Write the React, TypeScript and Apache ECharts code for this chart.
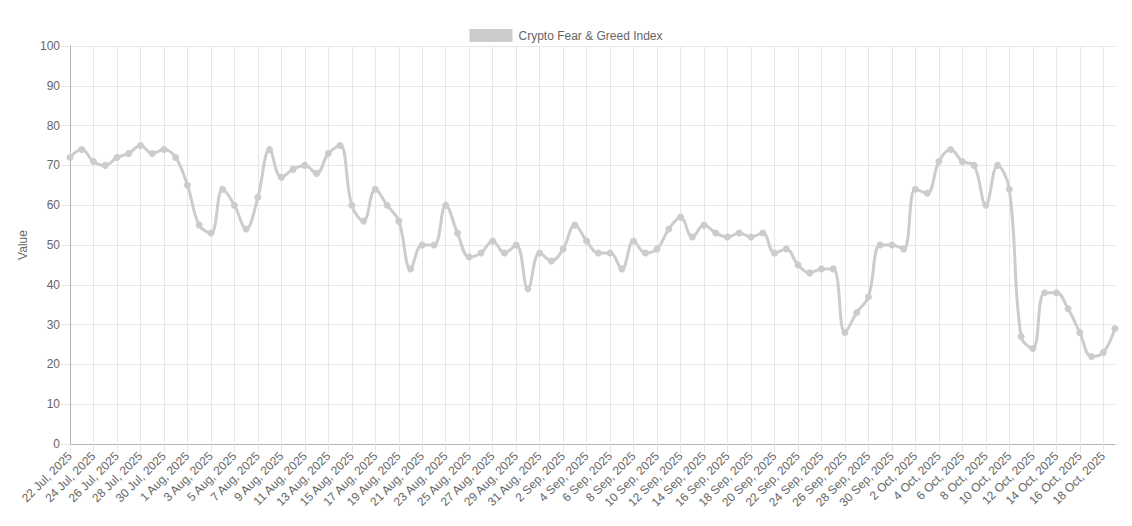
import React, { useEffect, useRef } from "react";
import * as echarts from "echarts";

const categories: string[] = [
  "22 Jul, 2025", "23 Jul, 2025", "24 Jul, 2025", "25 Jul, 2025", "26 Jul, 2025", "27 Jul, 2025",
  "28 Jul, 2025", "29 Jul, 2025", "30 Jul, 2025", "31 Jul, 2025",
  "1 Aug, 2025", "2 Aug, 2025", "3 Aug, 2025", "4 Aug, 2025", "5 Aug, 2025", "6 Aug, 2025",
  "7 Aug, 2025", "8 Aug, 2025", "9 Aug, 2025", "10 Aug, 2025", "11 Aug, 2025", "12 Aug, 2025",
  "13 Aug, 2025", "14 Aug, 2025", "15 Aug, 2025", "16 Aug, 2025", "17 Aug, 2025", "18 Aug, 2025",
  "19 Aug, 2025", "20 Aug, 2025", "21 Aug, 2025", "22 Aug, 2025", "23 Aug, 2025", "24 Aug, 2025",
  "25 Aug, 2025", "26 Aug, 2025", "27 Aug, 2025", "28 Aug, 2025", "29 Aug, 2025", "30 Aug, 2025",
  "31 Aug, 2025",
  "1 Sep, 2025", "2 Sep, 2025", "3 Sep, 2025", "4 Sep, 2025", "5 Sep, 2025", "6 Sep, 2025",
  "7 Sep, 2025", "8 Sep, 2025", "9 Sep, 2025", "10 Sep, 2025", "11 Sep, 2025", "12 Sep, 2025",
  "13 Sep, 2025", "14 Sep, 2025", "15 Sep, 2025", "16 Sep, 2025", "17 Sep, 2025", "18 Sep, 2025",
  "19 Sep, 2025", "20 Sep, 2025", "21 Sep, 2025", "22 Sep, 2025", "23 Sep, 2025", "24 Sep, 2025",
  "25 Sep, 2025", "26 Sep, 2025", "27 Sep, 2025", "28 Sep, 2025", "29 Sep, 2025", "30 Sep, 2025",
  "1 Oct, 2025", "2 Oct, 2025", "3 Oct, 2025", "4 Oct, 2025", "5 Oct, 2025", "6 Oct, 2025",
  "7 Oct, 2025", "8 Oct, 2025", "9 Oct, 2025", "10 Oct, 2025", "11 Oct, 2025", "12 Oct, 2025",
  "13 Oct, 2025", "14 Oct, 2025", "15 Oct, 2025", "16 Oct, 2025", "17 Oct, 2025", "18 Oct, 2025",
  "19 Oct, 2025",
];

const fearGreedValues: number[] = [
  72, 74, 71, 70, 72, 73, 75, 73, 74, 72,
  65, 55, 53, 64, 60, 54, 62, 74, 67, 69,
  70, 68, 73, 75, 60, 56, 64, 60, 56, 44,
  50, 50, 60, 53, 47, 48, 51, 48, 50, 39,
  48, 46, 49, 55, 51, 48, 48, 44, 51, 48,
  49, 54, 57, 52, 55, 53, 52, 53, 52, 53,
  48, 49, 45, 43, 44, 44, 28, 33, 37, 50,
  50, 49, 64, 63, 71, 74, 71, 70, 60, 70,
  64, 27, 24, 38, 38, 34, 28, 22, 23, 29,
];

const seriesName = "Crypto Fear & Greed Index";
const yAxisName = "Value";
const yMin = 0;
const yMax = 100;
const yStep = 10;

const FONT = "'Liberation Sans', Arial, Helvetica, sans-serif";
const TEXT = "#666666";
const GRID = "#e6e6e6";
const AXIS = "#b3b3b3";
const LINE = "#cccccc";

export default function App() {
  const ref = useRef<HTMLDivElement>(null);

  useEffect(() => {
    document.body.style.margin = "0";
    if (!ref.current) return;
    const chart = echarts.init(ref.current, null, { renderer: "svg" });
    chart.setOption({
      animation: false,
      backgroundColor: "#ffffff",
      textStyle: { fontFamily: FONT },
      legend: {
        top: 24,
        left: "center",
        icon: "rect",
        itemWidth: 43,
        itemHeight: 13,
        itemGap: 10,
        textStyle: { color: TEXT, fontSize: 12, fontFamily: FONT, padding: [0, 0, 0, 1] },
        data: [seriesName],
      },
      grid: { left: 70, right: 17, top: 46, bottom: 82, containLabel: false },
      xAxis: {
        type: "category",
        data: categories,
        boundaryGap: false,
        axisLine: { show: true, lineStyle: { color: AXIS, width: 1 } },
        axisTick: { show: true, interval: 1, length: 9, lineStyle: { color: GRID } },
        axisLabel: {
          interval: 1,
          rotate: 45,
          color: TEXT,
          fontSize: 12,
          fontFamily: FONT,
          margin: 10,
        },
        splitLine: { show: true, interval: 1, lineStyle: { color: GRID, width: 1 } },
      },
      yAxis: {
        type: "value",
        min: yMin,
        max: yMax,
        interval: yStep,
        name: yAxisName,
        nameLocation: "middle",
        nameRotate: 90,
        nameGap: 40,
        nameTextStyle: { color: TEXT, fontSize: 12, fontFamily: FONT },
        axisLine: { show: true, lineStyle: { color: AXIS, width: 1 } },
        axisTick: { show: true, length: 9, lineStyle: { color: GRID } },
        axisLabel: { color: TEXT, fontSize: 12, fontFamily: FONT, margin: 10 },
        splitLine: { show: true, lineStyle: { color: GRID, width: 1 } },
      },
      series: [
        {
          name: seriesName,
          type: "line",
          data: fearGreedValues,
          smooth: 0.4,
          symbol: "circle",
          symbolSize: 7,
          showSymbol: true,
          lineStyle: { color: LINE, width: 3 },
          itemStyle: { color: LINE },
        },
      ],
    });
    return () => chart.dispose();
  }, []);

  return (
    <div
      ref={ref}
      style={{ position: "absolute", left: 0, top: 0, width: 1132, height: 526 }}
    />
  );
}
